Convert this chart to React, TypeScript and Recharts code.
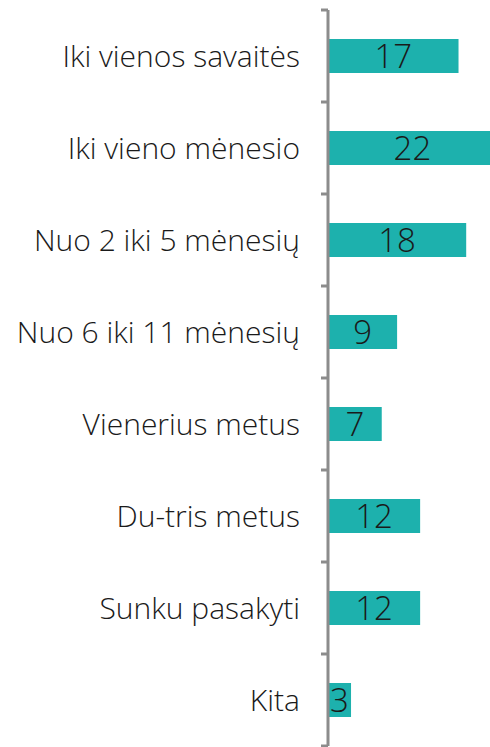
import { BarChart, Bar, XAxis, YAxis, LabelList } from 'recharts';

const categories = [
  'Iki vienos savaitės',
  'Iki vieno mėnesio',
  'Nuo 2 iki  5 mėnesių ',
  'Nuo 6 iki 11 mėnesių',
  'Vienerius metus',
  'Du-tris metus',
  'Sunku pasakyti',
  'Kita',
];
const values = [17, 22, 18, 9, 7, 12, 12, 3];
const boundaryTicks = [0, 1, 2, 3, 4, 5, 6, 7, 8];

const data = categories.map((name, i) => ({ name, value: values[i], slot: i + 0.5 }));

const font = "'Open Sans', 'Noto Sans', sans-serif";

export default function App() {
  return (
    <div style={{ position: 'absolute', left: 0, top: 0, width: 490, height: 747, background: '#fff' }}>
      <BarChart
        width={490}
        height={747}
        data={data}
        layout="vertical"
        margin={{ top: 10, right: 0, bottom: 1, left: 0 }}
      >
        <XAxis type="number" hide domain={[0, 21.1]} allowDataOverflow />
        {/* id 0: boundary ticks next to the bars */}
        <YAxis
          yAxisId={0}
          type="number"
          dataKey="slot"
          orientation="left"
          width={1}
          domain={[0, 8]}
          ticks={boundaryTicks}
          reversed
          axisLine={{ stroke: '#8c8c8c', strokeWidth: 3 }}
          tickLine={{ stroke: '#8c8c8c', strokeWidth: 3 }}
          tickSize={7}
          tickFormatter={() => ''}
        />
        <YAxis
          yAxisId="cat"
          type="category"
          dataKey="name"
          width={327}
          axisLine={false}
          tickLine={false}
          tickMargin={21}
          tick={{ fill: '#1a1a1a', fontSize: 30, fontFamily: font, fontWeight: 300 }}
        />
        <Bar yAxisId="cat" dataKey="value" fill="#1db1ad" barSize={34} isAnimationActive={false}>
          <LabelList
            dataKey="value"
            position="center"
            fill="#1a1a1a"
            fontSize={33}
            fontFamily={font}
            fontWeight={300}
          />
        </Bar>
      </BarChart>
    </div>
  );
}
